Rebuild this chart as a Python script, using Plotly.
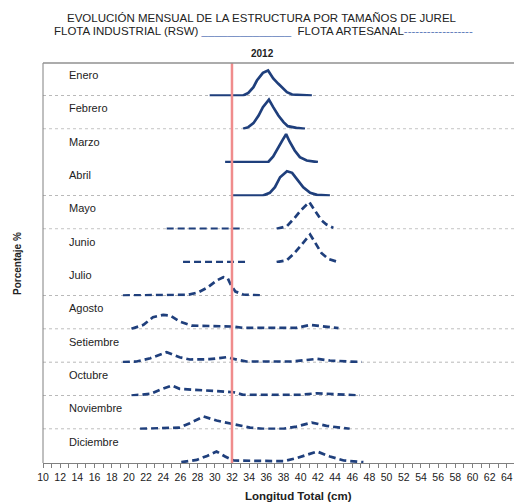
import plotly.graph_objects as go
from plotly.subplots import make_subplots

months = ["Enero", "Febrero", "Marzo", "Abril", "Mayo", "Junio", "Julio",
          "Agosto", "Setiembre", "Octubre", "Noviembre", "Diciembre"]

# talla (cm) / porcentaje (%) por mes ; None = sin dato
enero_x = [29.4, 33.3, 33.9, 34.5, 34.9, 35.3, 35.6, 36.2, 36.8, 37.4, 38.4, 39.0, 41.3]
enero_y = [0, 0, 2.7, 8.3, 15, 20, 22.7, 25, 17, 11.7, 3.3, 1, 0]
febrero_x = [33.3, 33.9, 34.5, 35.1, 35.6, 36.3, 36.8, 37.4, 38.0, 38.5, 39.5, 40.5]
febrero_y = [0, 1.7, 5.7, 13.3, 21.7, 29.3, 21.7, 13.3, 6.7, 2.7, 1, 0]
marzo_x = [31.2, 36.2, 36.8, 37.4, 37.9, 38.3, 38.7, 39.3, 39.9, 40.7, 42.0]
marzo_y = [0, 0, 5.7, 14, 22.3, 28, 20.7, 11.7, 5, 1.7, 0]
abril_x = [32.1, 35.6, 36.4, 37.0, 37.6, 38.4, 39.0, 39.5, 40.3, 41.1, 41.9, 43.4]
abril_y = [0, 0, 2.7, 8.3, 18.3, 24.3, 22.7, 16.7, 8.3, 2.7, 0.7, 0]
mayo_x = [24.4, 33.3, 35.0, 37.2, 38.4, 39.3, 40.1, 41.0, 41.7, 42.4, 43.0, 43.8]
mayo_y = [0, 0, None, 0, 2.7, 11, 19.3, 26.7, 17.7, 8.7, 4.3, 1]
junio_x = [26.3, 33.9, 35.5, 37.2, 38.4, 39.3, 40.3, 41.1, 41.7, 42.4, 43.2, 44.4]
junio_y = [0, 0, None, 0, 2, 9.3, 19.3, 27.7, 19.3, 9.3, 3.3, 0]
julio_x = [19.3, 26.9, 28.1, 29.2, 30.2, 31.0, 31.5, 31.9, 32.4, 33.3, 35.5]
julio_y = [0, 0.7, 3.3, 8.3, 15, 18.3, 17.3, 10, 4, 1, 0]
agosto_x = [20.3, 21.7, 22.8, 24.0, 24.8, 25.9, 27.3, 29.4, 32.2, 33.3, 39.5, 41.1, 42.6, 44.4]
agosto_y = [0, 4, 11.7, 14, 13.3, 7.3, 3.3, 2.7, 2.3, 1, 1, 4, 2.3, 0.7]
setiembre_x = [19.3, 20.9, 22.5, 24.4, 25.9, 27.1, 29.4, 31.4, 32.7, 33.7, 39.1, 40.7, 41.9, 43.4, 45.0, 47.1]
setiembre_y = [0, 0.7, 4, 10, 5, 2.7, 3, 5, 2.3, 0.7, 0.7, 2.3, 3.3, 1.7, 0.7, 0]
octubre_x = [20.3, 22.5, 23.6, 25.0, 25.9, 27.5, 29.4, 31.0, 32.2, 33.3, 39.9, 41.9, 44.2, 46.9]
octubre_y = [0, 1.7, 5.7, 10, 6.7, 5.7, 4.7, 4, 3.3, 0.7, 0.7, 2.3, 1, 0]
noviembre_x = [21.3, 25.9, 27.1, 28.7, 30.2, 32.2, 34.1, 35.6, 38.0, 39.5, 41.3, 43.0, 45.7]
noviembre_y = [0, 1.3, 5.7, 12.3, 8.3, 5, 1.3, 0, 0, 2.3, 6.3, 3, 0]
diciembre_x = [26.1, 27.9, 29.1, 30.2, 31.2, 32.2, 38.0, 39.5, 41.9, 43.4, 45.0, 47.3]
diciembre_y = [0, 2.3, 6.3, 10.7, 5.7, 1.7, 1, 4, 10.7, 5.7, 1.7, 0]

series_x = [enero_x, febrero_x, marzo_x, abril_x, mayo_x, junio_x, julio_x,
            agosto_x, setiembre_x, octubre_x, noviembre_x, diciembre_x]
series_y = [enero_y, febrero_y, marzo_y, abril_y, mayo_y, junio_y, julio_y,
            agosto_y, setiembre_y, octubre_y, noviembre_y, diciembre_y]
flota = ["industrial"] * 4 + ["artesanal"] * 8

tick_vals = list(range(10, 65, 2))
ref_talla = 32

L, T, B = 43, 63, 41
W, H = 514, 504
PW, PH = W - L, H - T - B  # plot width/height in px


def px(x):  # screen x -> paper x
    return (x - L) / PW


def py(y):  # screen y -> paper y
    return 1 - (y - T) / PH


navy = "#1f3f7c"
n = len(months)
fig = make_subplots(rows=n, cols=1, shared_xaxes=True, vertical_spacing=0)

for i in range(n):
    dash = "solid" if flota[i] == "industrial" else "7px,4px"
    fig.add_trace(go.Scatter(x=series_x[i], y=series_y[i], mode="lines",
                             line=dict(color=navy, width=2.7, dash=dash),
                             connectgaps=False, showlegend=False, hoverinfo="skip"),
                  row=i + 1, col=1)
    yname = "y" if i == 0 else f"y{i+1}"
    fig.update_yaxes(range=[-0.8, 32.53], visible=False, row=i + 1, col=1)
    fig.update_xaxes(showgrid=False, zeroline=False, row=i + 1, col=1)
    if i < n - 1:
        fig.add_shape(type="line", xref="paper", yref=yname, x0=0, x1=1, y0=0, y1=0,
                      line=dict(color="#b8b8b8", width=1, dash="dot"), layer="below")
    fig.add_annotation(text=months[i], xref="x", yref=f"{yname} domain",
                       x=12.8, y=0.64, xanchor="left", yanchor="middle", showarrow=False,
                       font=dict(family="Liberation Sans, Arial", size=11, color="#222"))

fig.update_xaxes(range=[10, 64.83])
fig.update_xaxes(row=n, col=1, showline=True, linecolor="#808080", linewidth=1,
                 ticks="outside", ticklen=4, tickcolor="#808080", tickvals=tick_vals,
                 minor=dict(ticks="outside", dtick=1, ticklen=4, tickcolor="#808080"),
                 tickfont=dict(family="Liberation Sans, Arial", size=10.5, color="#222"))

# linea de referencia
fig.add_shape(type="line", xref="x", yref="paper", x0=ref_talla, x1=ref_talla, y0=0, y1=1,
              line=dict(color="#f08c8c", width=2.5))
# borde area
fig.add_shape(type="line", xref="paper", yref="paper", x0=0, x1=0, y0=0, y1=1,
              line=dict(color="#808080", width=1))
fig.add_shape(type="line", xref="paper", yref="paper", x0=0, x1=1, y0=1, y1=1,
              line=dict(color="#909090", width=1.5))

tf = dict(family="Liberation Sans, Arial", size=11.5, color="#222")
fig.add_annotation(text="EVOLUCIÓN MENSUAL DE LA ESTRUCTURA POR TAMAÑOS DE JUREL",
                   xref="paper", yref="paper", x=px(262), y=py(18),
                   showarrow=False, font=tf, xanchor="center", yanchor="middle")
fig.add_annotation(text="FLOTA INDUSTRIAL (RSW) <span style='color:#5a78b8'>______________</span>  FLOTA ARTESANAL<span style='color:#5a78b8'>------------------</span>",
                   xref="paper", yref="paper", x=px(263), y=py(31),
                   showarrow=False, font=tf, xanchor="center", yanchor="middle")
fig.add_annotation(text="<b>2012</b>", xref="paper", yref="paper",
                   x=px(262), y=py(53), showarrow=False, yanchor="middle",
                   font=dict(family="Liberation Sans, Arial", size=10, color="#222"))
fig.add_annotation(text="<b>Longitud Total (cm)</b>", xref="paper", yref="paper",
                   x=px(298), y=py(496), showarrow=False,
                   font=dict(family="Liberation Sans, Arial", size=11.5, color="#222"),
                   yanchor="middle")
fig.add_annotation(text="<b>Porcentaje %</b>", xref="paper", yref="paper",
                   x=px(17), y=py(264), showarrow=False, textangle=-90,
                   font=dict(family="Liberation Sans, Arial", size=10, color="#222"),
                   xanchor="center", yanchor="middle")

fig.update_layout(width=W, height=H, margin=dict(l=L, r=0, t=T, b=B),
                  paper_bgcolor="white", plot_bgcolor="white", showlegend=False)

fig.write_html("out.html", config={"displayModeBar": False, "staticPlot": True},
               post_script="document.body.style.margin='0';document.body.style.overflow='hidden';")
